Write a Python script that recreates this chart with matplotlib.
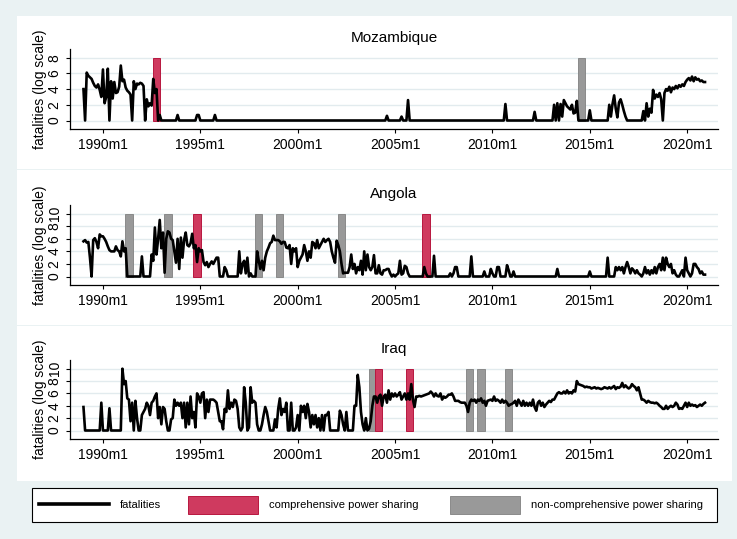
import numpy as np
import matplotlib
matplotlib.use("Agg")
import matplotlib.pyplot as plt
from matplotlib.patches import Rectangle
from matplotlib.lines import Line2D

plt.rcParams['font.family'] = ['Liberation Sans', 'DejaVu Sans']

# ---------------------------------------------------------------------------
# Monthly fatalities, log scale, 1989m1 .. 2020m12 (one row per year)
# ---------------------------------------------------------------------------
mozambique = [
    4.0, 0, 6.1, 5.7, 5.5, 5.3, 4.8, 4.4, 4.2, 4.6, 3.9, 3.0,      # 1989
    6.5, 2.2, 3.0, 6.6, 0, 5.0, 2.8, 4.9, 3.5, 3.6, 4.3, 7.0,      # 1990
    5.0, 5.2, 4.2, 3.8, 3.6, 3.3, 0, 5.0, 4.0, 4.7, 4.6, 4.8,      # 1991
    4.7, 4.4, 0, 2.7, 1.8, 2.2, 1.9, 5.3, 3.5, 4.0, 0, 0.7,        # 1992
    0, 0, 0, 0, 0, 0, 0, 0, 0, 0, 0.7, 0,                          # 1993
    0, 0, 0, 0, 0, 0, 0, 0, 0, 0, 0.7, 0.7,                        # 1994
    0, 0, 0, 0, 0, 0, 0, 0, 0, 0.7, 0, 0,                          # 1995
    0, 0, 0, 0, 0, 0, 0, 0, 0, 0, 0, 0,                            # 1996
    0, 0, 0, 0, 0, 0, 0, 0, 0, 0, 0, 0,                            # 1997
    0, 0, 0, 0, 0, 0, 0, 0, 0, 0, 0, 0,                            # 1998
    0, 0, 0, 0, 0, 0, 0, 0, 0, 0, 0, 0,                            # 1999
    0, 0, 0, 0, 0, 0, 0, 0, 0, 0, 0, 0,                            # 2000
    0, 0, 0, 0, 0, 0, 0, 0, 0, 0, 0, 0,                            # 2001
    0, 0, 0, 0, 0, 0, 0, 0, 0, 0, 0, 0,                            # 2002
    0, 0, 0, 0, 0, 0, 0, 0, 0, 0, 0, 0,                            # 2003
    0, 0, 0, 0, 0, 0, 0, 0.6, 0, 0, 0, 0,                          # 2004
    0, 0, 0, 0, 0.5, 0, 0, 0, 2.6, 0, 0, 0,                        # 2005
    0, 0, 0, 0, 0, 0, 0, 0, 0, 0, 0, 0,                            # 2006
    0, 0, 0, 0, 0, 0, 0, 0, 0, 0, 0, 0,                            # 2007
    0, 0, 0, 0, 0, 0, 0, 0, 0, 0, 0, 0,                            # 2008
    0, 0, 0, 0, 0, 0, 0, 0, 0, 0, 0, 0,                            # 2009
    0, 0, 0, 0, 0, 0, 0, 0, 2.1, 0, 0, 0,                          # 2010
    0, 0, 0, 0, 0, 0, 0, 0, 0, 0, 0, 0,                            # 2011
    0, 0, 1.1, 0, 0, 0, 0, 0, 0, 0, 0, 0,                          # 2012
    0, 0, 2.0, 0, 2.2, 0, 2.1, 0.5, 2.6, 2.2, 1.8, 1.6,            # 2013
    1.4, 2.0, 0.9, 1.0, 2.5, 0, 0, 0, 0, 0, 0, 0,                  # 2014
    1.3, 0, 0, 0, 0, 0, 0, 0, 0, 0, 0, 0,                          # 2015
    2.0, 0.5, 2.1, 3.2, 1.5, 0.4, 2.3, 2.7, 2.0, 1.2, 0.5, 0,      # 2016
    0, 0, 0, 0, 0, 0, 0, 0, 0, 1.2, 0, 2.2,                        # 2017
    0.5, 1.5, 1.0, 3.9, 2.8, 3.3, 3.0, 3.5, 2.7, 0, 3.5, 4.0,      # 2018
    3.8, 4.3, 3.6, 4.2, 4.0, 4.4, 4.1, 4.5, 4.3, 4.6, 4.4, 4.9,    # 2019
    5.2, 5.4, 5.1, 5.6, 5.0, 5.5, 5.2, 5.3, 5.0, 5.1, 4.9, 4.9,    # 2020
]

angola = [
    5.6, 5.8, 5.4, 5.5, 3.0, 0, 5.8, 6.1, 5.5, 4.5, 6.7, 6.4,      # 1989
    6.4, 6.0, 5.5, 4.8, 4.2, 4.0, 4.0, 4.0, 4.8, 4.2, 4.0, 3.2,    # 1990
    5.6, 4.0, 4.5, 0, 0, 0, 0, 0, 0, 0, 0, 0,                      # 1991
    3.2, 0, 0, 0, 0, 0, 3.5, 2.5, 7.8, 3.5, 6.0, 9.0,              # 1992
    4.5, 7.0, 0.6, 6.0, 7.2, 7.0, 6.0, 5.8, 4.0, 2.2, 6.0, 1.2,    # 1993
    6.2, 3.0, 5.8, 7.0, 5.0, 4.8, 5.3, 6.8, 4.5, 5.0, 2.3, 4.5,    # 1994
    4.0, 4.2, 2.3, 1.8, 2.3, 1.5, 2.0, 2.4, 2.0, 2.5, 3.0, 3.0,    # 1995
    0, 0, 0, 1.5, 1.0, 0, 0, 0, 0, 0, 0, 0,                        # 1996
    4.0, 0.5, 2.0, 2.5, 0.5, 3.0, 0, 0.5, 0, 0, 0, 4.0,            # 1997
    2.5, 1.2, 2.5, 1.0, 3.0, 4.0, 4.6, 5.3, 5.5, 6.5, 5.8, 5.8,    # 1998
    5.8, 5.6, 5.2, 5.5, 5.5, 4.6, 4.5, 5.0, 2.0, 4.5, 4.0, 4.5,    # 1999
    1.5, 2.5, 3.0, 3.5, 5.0, 4.0, 2.5, 4.0, 3.0, 5.5, 5.3, 4.5,    # 2000
    5.8, 4.5, 5.0, 5.5, 6.0, 5.5, 5.8, 6.0, 5.5, 4.0, 3.0, 2.2,    # 2001
    5.7, 5.0, 4.0, 2.0, 0.5, 0.6, 0.6, 0.6, 1.5, 3.5, 1.2, 2.0,    # 2002
    0.5, 1.5, 1.0, 2.5, 0.3, 4.0, 1.0, 3.5, 1.5, 1.0, 1.5, 3.4,    # 2003
    0.5, 0.5, 1.8, 0.5, 0.3, 1.0, 1.0, 1.2, 1.2, 0.5, 0, 0.3,      # 2004
    0, 0.3, 0.5, 2.5, 0.3, 0.5, 1.7, 1.5, 0.5, 0, 0, 0,            # 2005
    0, 0, 0, 0, 0, 0, 1.5, 0.5, 0, 0, 0, 0,                        # 2006
    3.3, 0, 0, 0, 0, 0, 0, 0, 0, 0, 0.5, 0,                        # 2007
    0.5, 1.5, 1.5, 0, 0, 0, 0, 0, 0, 0, 0, 3.2,                    # 2008
    0, 0, 0, 0, 0, 0, 0, 0.8, 0, 0, 0, 1.2,                        # 2009
    0.5, 0, 0, 1.5, 1.5, 0, 0, 0, 0, 1.8, 1.0, 0,                  # 2010
    0, 0.8, 0, 0, 0, 0, 0, 0, 0, 0, 0, 0,                          # 2011
    0, 0, 0, 0, 0, 0, 0, 0, 0, 0, 0, 0,                            # 2012
    0, 0, 0, 0, 1.2, 0, 0, 0, 0, 0, 0, 0,                          # 2013
    0, 0, 0, 0, 0, 0, 0, 0, 0, 0, 0, 0,                            # 2014
    0.8, 0, 0, 0, 0, 0, 0, 0, 0, 0, 0, 3.0,                        # 2015
    0, 0, 0, 0, 1.5, 1.0, 1.5, 1.0, 1.5, 0.5, 1.5, 2.3,            # 2016
    1.5, 0.5, 1.3, 1.0, 0.5, 1.0, 0.5, 0.3, 0, 0.5, 1.5, 0.5,      # 2017
    1.0, 0.3, 1.0, 0.5, 1.5, 0.5, 1.5, 2.0, 1.0, 3.0, 1.0, 3.0,    # 2018
    2.0, 1.5, 2.0, 0.5, 1.0, 0.3, 0, 0, 0.5, 1.0, 0, 3.0,          # 2019
    1.0, 0.5, 0, 0.5, 2.0, 2.0, 1.5, 1.2, 0.5, 0.8, 0.3, 0.3,      # 2020
]

iraq = [
    3.8, 0, 0, 0, 0, 0, 0, 0, 0, 0, 0, 4.5,                        # 1989
    0, 0, 0, 0, 3.6, 0, 0, 0, 0, 0, 0, 0,                          # 1990
    10.0, 7.5, 8.0, 5.2, 5.0, 1.5, 4.5, 0, 4.8, 2.0, 0, 0,         # 1991
    2.5, 3.0, 3.5, 4.5, 4.0, 2.5, 4.5, 4.8, 5.5, 6.0, 2.0, 3.8,    # 1992
    1.0, 3.8, 3.5, 1.5, 0, 0, 1.8, 2.0, 5.0, 4.0, 4.5, 4.0,        # 1993
    4.5, 2.0, 4.5, 0.5, 4.5, 1.0, 5.5, 2.0, 3.0, 0.5, 6.0, 5.5,    # 1994
    4.5, 6.0, 6.2, 2.0, 5.0, 3.0, 5.0, 5.0, 5.0, 4.8, 4.5, 3.0,    # 1995
    1.5, 1.5, 0.2, 3.5, 3.0, 6.5, 3.5, 4.5, 3.8, 5.0, 4.8, 3.5,    # 1996
    0.5, 0, 0.5, 7.0, 4.5, 0, 0.5, 7.0, 4.5, 4.8, 4.5, 1.0,        # 1997
    0, 0, 1.0, 2.5, 3.8, 3.0, 1.5, 0, 0, 0, 1.8, 0.5,              # 1998
    3.5, 5.2, 2.5, 3.5, 3.0, 4.5, 0, 0, 4.5, 0, 0, 0.5,            # 1999
    2.5, 0, 4.0, 3.0, 4.0, 2.0, 4.3, 3.0, 0.5, 2.5, 1.0, 2.5,      # 2000
    0.5, 2.0, 0, 2.5, 0, 2.5, 2.5, 3.0, 0, 0, 0, 0,                # 2001
    0, 0, 3.2, 2.5, 1.0, 0, 3.0, 0, 0, 0, 0, 4.0,                  # 2002
    4.0, 9.0, 7.0, 3.0, 1.0, 0, 2.0, 0, 0.3, 1.5, 4.0, 5.5,        # 2003
    5.5, 4.5, 5.5, 5.8, 4.0, 5.5, 5.8, 4.5, 6.5, 5.0, 6.0, 5.5,    # 2004
    6.0, 5.5, 5.8, 6.2, 5.0, 5.5, 6.0, 5.0, 6.0, 5.0, 7.5, 5.0,    # 2005
    3.8, 5.5, 5.5, 5.6, 5.5, 5.6, 5.7, 5.8, 5.9, 6.0, 6.3, 6.0,    # 2006
    5.5, 6.0, 5.6, 5.5, 6.0, 5.0, 5.5, 5.3, 5.5, 5.8, 5.8, 6.0,    # 2007
    5.5, 4.8, 4.8, 4.8, 4.6, 4.5, 4.5, 4.5, 4.0, 3.0, 4.5, 5.0,    # 2008
    4.8, 5.0, 4.5, 5.0, 4.8, 5.2, 4.5, 4.8, 4.0, 4.8, 4.9, 5.0,    # 2009
    4.8, 5.5, 4.8, 5.0, 4.8, 4.5, 5.0, 4.5, 4.8, 4.5, 4.0, 4.2,    # 2010
    4.3, 4.5, 4.8, 4.0, 5.0, 4.5, 4.0, 4.8, 4.0, 4.5, 4.0, 4.5,    # 2011
    4.0, 5.0, 3.8, 3.2, 4.5, 4.8, 4.0, 4.5, 3.8, 4.2, 4.5, 4.8,    # 2012
    4.6, 5.0, 5.0, 5.5, 6.0, 6.2, 6.0, 6.0, 6.3, 6.0, 6.5, 6.0,    # 2013
    6.2, 6.0, 6.5, 6.3, 8.0, 7.5, 7.4, 7.3, 7.2, 7.0, 7.1, 7.0,    # 2014
    7.0, 6.8, 6.9, 7.0, 6.8, 6.9, 6.8, 6.7, 6.8, 7.0, 6.9, 6.8,    # 2015
    7.0, 6.8, 7.0, 7.2, 6.7, 7.0, 6.9, 7.1, 7.7, 7.0, 7.3, 7.0,    # 2016
    6.8, 7.0, 7.5, 7.2, 7.0, 6.5, 7.0, 6.0, 5.0, 5.0, 4.8, 4.5,    # 2017
    4.8, 4.6, 4.5, 4.5, 4.4, 4.5, 4.3, 4.0, 3.8, 3.5, 3.5, 4.0,    # 2018
    3.5, 3.8, 4.0, 3.8, 4.0, 4.5, 4.2, 3.5, 3.6, 3.5, 4.0, 4.5,    # 2019
    3.8, 4.5, 4.0, 4.2, 4.0, 4.1, 3.8, 4.0, 4.2, 4.0, 4.3, 4.5,    # 2020
]

# Power-sharing agreement months
moz_comprehensive = ["1992m10"]
moz_noncomprehensive = ["2014m8"]
ago_comprehensive = ["1994m11", "2006m8"]
ago_noncomprehensive = ["1991m5", "1993m5", "1998m1", "1999m2", "2002m4"]
irq_comprehensive = ["2004m3", "2005m10"]
irq_noncomprehensive = ["2003m11", "2008m11", "2009m6", "2010m11"]

x_tick_labels = ["1990m1", "1995m1", "2000m1", "2005m1", "2010m1", "2015m1", "2020m1"]
moz_yticks = [0, 2, 4, 6, 8]
ago_yticks = [0, 2, 4, 6, 8, 10]
irq_yticks = [0, 2, 4, 6, 8, 10]

# ---------------------------------------------------------------------------
W, H = 737, 539
BG = '#eaf2f3'
GRID = '#e2ebee'
RED = '#cf3a5f'
RED_EDGE = '#b8173f'
GRAY = '#999999'
GRAY_EDGE = '#8a8a8a'
BAR_WIDTH = 4.5


def stata_month(s):
    y, m = s.split('m')
    return (int(y) - 1960) * 12 + int(m) - 1


months = np.arange(stata_month('1989m1'), stata_month('2020m12') + 1)
xticks = [stata_month(s) for s in x_tick_labels]


def fx(px):
    return px / W


def fy(py):
    return 1 - py / H


fig = plt.figure(figsize=(W / 100, H / 100), dpi=100, facecolor=BG)

# white panel backgrounds (pixel boxes: left, top, right, bottom)
for (l, t, r, b) in [(17, 16, 732, 168.5), (17, 170, 732, 324.5), (17, 326, 732, 481)]:
    fig.patches.append(Rectangle((fx(l), fy(b)), fx(r) - fx(l), fy(t) - fy(b),
                                 transform=fig.transFigure, facecolor='white',
                                 edgecolor='none', zorder=-5))

panels = [
    ("Mozambique", mozambique, moz_comprehensive, moz_noncomprehensive, moz_yticks, (49, 129)),
    ("Angola", angola, ago_comprehensive, ago_noncomprehensive, ago_yticks, (205, 285)),
    ("Iraq", iraq, irq_comprehensive, irq_noncomprehensive, irq_yticks, (360, 439)),
]

for name, series, comp, noncomp, yticks, (top, bot) in panels:
    ax = fig.add_axes([fx(70), fy(bot), fx(718) - fx(70), fy(top) - fy(bot)])
    ax.set_zorder(1)
    ax.set_facecolor('white')
    ymax = yticks[-1]
    # plot region leaves ~8.5 px margin below the first and above the last tick
    span_px = (bot - top) - 17.2
    unit = ymax / span_px
    ax.set_ylim(-8.5 * unit, ymax + 8.7 * unit)
    ax.set_xlim(339.7, 739.0)

    ax.bar([stata_month(s) for s in noncomp], ymax, width=BAR_WIDTH, bottom=0,
           color=GRAY, edgecolor=GRAY_EDGE, linewidth=0.7, zorder=2)
    ax.bar([stata_month(s) for s in comp], ymax, width=BAR_WIDTH, bottom=0,
           color=RED, edgecolor=RED_EDGE, linewidth=0.7, zorder=2.5)
    ax.plot(months, series, color='black', linewidth=1.9, zorder=3)

    ax.set_yticks(yticks)
    ax.set_yticklabels([str(v) for v in yticks])
    ax.set_xticks(xticks)
    ax.set_xticklabels(x_tick_labels)
    ax.grid(axis='y', color=GRID, linewidth=1.0)
    ax.set_axisbelow(True)
    for s in ('top', 'right'):
        ax.spines[s].set_visible(False)
    for s in ('left', 'bottom'):
        ax.spines[s].set_color('black')
        ax.spines[s].set_linewidth(0.9)
    ax.tick_params(axis='both', direction='out', length=2.9, width=0.8,
                   labelsize=10, colors='black')
    ax.tick_params(axis='x', pad=3.6)
    ax.tick_params(axis='y', pad=3.2)
    for lab in ax.get_yticklabels():
        lab.set_rotation(90)
        lab.set_va('center')
        lab.set_ha('right')

    fig.text(fx(394), fy(top - 6.6), name, ha='center', va='baseline', fontsize=11)
    fig.text(fx(40), fy((top + bot) / 2), 'fatalities (log scale)', rotation=90,
             ha='center', va='center', fontsize=10)

# legend box
fig.patches.append(Rectangle((fx(32), fy(522)), fx(717) - fx(32), fy(488) - fy(522),
                             transform=fig.transFigure, facecolor='white',
                             edgecolor='black', linewidth=0.8, zorder=1))
fig.lines.append(Line2D([fx(39), fx(109)], [fy(504.3), fy(504.3)],
                        transform=fig.transFigure, color='black', linewidth=2.6, zorder=2))
fig.text(fx(120), fy(504.5), 'fatalities', ha='left', va='center', fontsize=8)
fig.patches.append(Rectangle((fx(188), fy(514)), fx(258) - fx(188), fy(496) - fy(514),
                             transform=fig.transFigure, facecolor=RED,
                             edgecolor=RED_EDGE, linewidth=0.7, zorder=2))
fig.text(fx(269), fy(504.5), 'comprehensive power sharing', ha='left', va='center', fontsize=8)
fig.patches.append(Rectangle((fx(450), fy(514)), fx(520) - fx(450), fy(496) - fy(514),
                             transform=fig.transFigure, facecolor=GRAY,
                             edgecolor=GRAY_EDGE, linewidth=0.7, zorder=2))
fig.text(fx(531), fy(504.5), 'non-comprehensive power sharing', ha='left', va='center', fontsize=8)

fig.savefig('out.png', dpi=100, facecolor=BG)
